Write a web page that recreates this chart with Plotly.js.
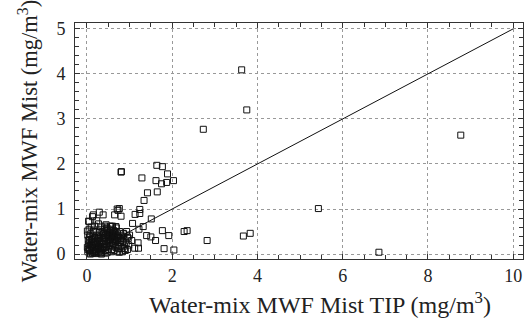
<!DOCTYPE html>
<html>
<head>
<meta charset="utf-8">
<script src="https://cdn.plot.ly/plotly-3.0.1.min.js"></script>
<style>html,body{margin:0;padding:0;background:#fff;}#chart{width:526px;height:324px;}</style>
</head>
<body>
<div id="chart"></div>
<script>
// Water-mix MWF Mist TIP (x) vs Water-mix MWF Mist (y), mg/m3
const tipX = [
  3.63, 3.75, 2.73, 8.77, 5.43, 6.85, 3.67, 3.83, 2.82, 2.28, 2.35,
  0.80, 0.81, 1.29, 1.64, 1.77, 1.89, 1.62, 1.75, 1.87, 2.03, 1.42, 1.65, 1.34, 1.24, 1.24, 1.13, 1.51,
  0.76, 0.73, 0.80, 0.29, 0.38, 0.13, 0.04, 0.27, 0.65, 1.07, 1.32, 1.22, 1.40, 1.50, 1.77, 1.92, 1.61,
  1.81, 2.04, 1.20, 1.12, 1.21, 0.95,
  0.02, 0.05, 0.08, 0.10, 0.12, 0.15, 0.18, 0.20, 0.22, 0.25, 0.28, 0.30, 0.32, 0.35, 0.38, 0.40,
  0.42, 0.45, 0.48, 0.50, 0.52, 0.55, 0.58, 0.60, 0.62, 0.65, 0.68, 0.70, 0.72, 0.75, 0.78, 0.80,
  0.85, 0.88, 0.90, 0.03, 0.06, 0.09, 0.04, 0.11, 0.14, 0.17, 0.19, 0.23, 0.26, 0.29, 0.33, 0.36,
  0.39, 0.41, 0.44, 0.47, 0.49, 0.53, 0.56, 0.59, 0.63, 0.66, 0.69, 0.73, 0.77, 0.82, 0.86, 0.01,
  0.07, 0.13, 0.16, 0.21, 0.24, 0.27, 0.31, 0.34, 0.37, 0.43, 0.46, 0.51, 0.54, 0.57, 0.61, 0.64,
  0.67, 0.71, 0.74, 0.79, 0.83, 0.87, 0.92, 0.95, 0.98, 0.02, 0.05, 0.10, 0.18, 0.35, 0.45, 0.55,
  0.60, 0.42, 0.15, 0.01, 0.23, 0.05, 0.15, 0.71, 0.58, 0.68, 0.85, 0.97, 1.05, 1.00, 0.93,
  0.44, 0.48, 0.52, 0.57, 0.62, 0.66, 0.46, 0.50, 0.55, 0.60, 0.64, 0.40, 0.53, 0.58, 0.70, 0.47,
  0.06, 0.12, 0.19, 0.26, 0.33, 0.09, 0.16, 0.24, 0.31, 0.38, 0.14, 0.21, 0.29, 0.36, 0.03, 0.11,
  0.05, 0.18, 0.27, 0.39, 0.08, 0.22, 0.34, 0.45, 0.13, 0.30, 0.50, 0.62, 0.72, 0.80, 0.88, 0.76
];
const mistY = [
  4.09, 3.20, 2.77, 2.64, 1.01, 0.04, 0.40, 0.46, 0.30, 0.50, 0.52,
  1.82, 1.83, 1.69, 1.97, 1.94, 1.78, 1.63, 1.56, 1.59, 1.63, 1.36, 1.38, 1.19, 0.99, 0.90, 0.88, 0.78,
  1.01, 0.97, 0.84, 0.93, 0.87, 0.83, 0.73, 0.67, 0.87, 0.68, 0.61, 0.55, 0.41, 0.38, 0.52, 0.41, 0.30,
  0.12, 0.09, 0.25, 0.13, 0.13, 0.38,
  0.05, 0.12, 0.02, 0.20, 0.08, 0.15, 0.03, 0.25, 0.10, 0.18, 0.05, 0.30, 0.12, 0.22, 0.07, 0.35,
  0.15, 0.28, 0.04, 0.40, 0.20, 0.32, 0.10, 0.45, 0.25, 0.38, 0.15, 0.30, 0.05, 0.22, 0.35, 0.12,
  0.28, 0.18, 0.08, 0.30, 0.38, 0.45, 0.22, 0.32, 0.40, 0.28, 0.50, 0.42, 0.35, 0.48, 0.38, 0.50,
  0.45, 0.55, 0.42, 0.52, 0.30, 0.48, 0.55, 0.38, 0.52, 0.45, 0.58, 0.42, 0.50, 0.40, 0.45, 0.15,
  0.25, 0.02, 0.22, 0.06, 0.28, 0.12, 0.20, 0.03, 0.28, 0.08, 0.18, 0.10, 0.25, 0.05, 0.18, 0.08,
  0.28, 0.20, 0.12, 0.25, 0.05, 0.35, 0.25, 0.10, 0.20, 0.42, 0.55, 0.60, 0.62, 0.60, 0.65, 0.62,
  0.62, 0.62, 0.53, 0.51, 0.74, 0.72, 0.87, 1.00, 0.61, 0.61, 0.46, 0.35, 0.30, 0.42, 0.50,
  0.36, 0.44, 0.33, 0.47, 0.40, 0.50, 0.56, 0.38, 0.52, 0.33, 0.48, 0.46, 0.36, 0.43, 0.40, 0.58,
  0.08, 0.14, 0.06, 0.16, 0.09, 0.18, 0.04, 0.13, 0.02, 0.16, 0.26, 0.14, 0.24, 0.11, 0.10, 0.22,
  0.32, 0.36, 0.33, 0.23, 0.00, 0.01, 0.00, 0.02, 0.34, 0.40, 0.26, 0.32, 0.34, 0.30, 0.12, 0.04
];
const lineX = [0, 10];
const lineY = [0, 5];
const xTitle = 'Water-mix MWF Mist TIP (mg/m<sup>3</sup>)';
const yTitle = 'Water-mix MWF Mist (mg/m<sup>3</sup>)';

const fontFam = 'Liberation Serif, Times New Roman, serif';
const traces = [
  {x: lineX, y: lineY, mode: 'lines', line: {color: '#111', width: 1}, hoverinfo: 'skip'},
  {x: tipX, y: mistY, mode: 'markers', marker: {symbol: 'square-open', size: 6, color: '#111', line: {width: 1, color: '#111'}}}
];
const axisCommon = {
  showline: true, linecolor: '#333', linewidth: 1, mirror: 'ticks',
  ticks: 'inside', ticklen: 5, tickcolor: '#333', tickwidth: 1,
  showgrid: true, gridcolor: '#999', gridwidth: 1, griddash: 'dot',
  zeroline: false, tickfont: {family: fontFam, size: 18, color: '#222'}
};
const layout = {
  width: 526, height: 324,
  margin: {l: 75, r: 3, t: 23, b: 65},
  paper_bgcolor: '#fff', plot_bgcolor: '#fff',
  showlegend: false,
  xaxis: Object.assign({}, axisCommon, {
    range: [-0.28, 10.23], tickvals: [0, 2, 4, 6, 8, 10],
    minor: {dtick: 0.5, tick0: 0, ticks: 'inside', ticklen: 4, tickcolor: '#333', showgrid: false}
  }),
  yaxis: Object.assign({}, axisCommon, {
    range: [-0.11, 5.13], tickvals: [0, 1, 2, 3, 4, 5], ticklabelstandoff: 5,
    minor: {dtick: 0.2, tick0: 0, ticks: 'inside', ticklen: 4, tickcolor: '#333', showgrid: false},
    title: {text: yTitle, font: {family: fontFam, size: 22.5, color: '#222'}, standoff: 12}
  }),
  annotations: [{
    text: xTitle, xref: 'paper', yref: 'paper', x: 0.547, y: -0.186,
    xanchor: 'center', yanchor: 'middle', showarrow: false,
    font: {family: fontFam, size: 24, color: '#222'}
  }]
};
Plotly.newPlot('chart', traces, layout, {displayModeBar: false, staticPlot: true});
</script>
</body>
</html>
